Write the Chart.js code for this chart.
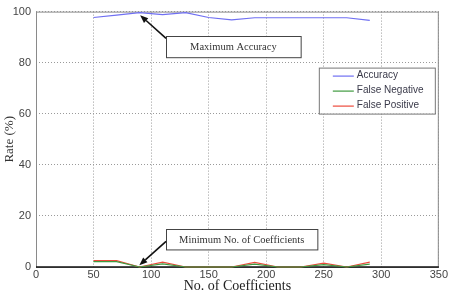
<!DOCTYPE html>
<html>
<head>
<meta charset="utf-8">
<script src="https://cdn.jsdelivr.net/npm/chart.js@4.4.1/dist/chart.umd.min.js"></script>
<style>
  html, body { margin: 0; padding: 0; background: #fff; }
  #wrap { position: relative; width: 449px; height: 295px; }
</style>
</head>
<body>
<div id="wrap"><canvas id="chart"></canvas></div>
<script>
// values
const coefficients = [50, 70, 90, 110, 130, 150, 170, 190, 210, 230, 250, 270, 290];
const accuracy = [97.7, 98.6, 99.6, 98.8, 99.6, 97.7, 96.8, 97.6, 97.6, 97.6, 97.6, 97.6, 96.6];
const falseNegative = [2.1, 2.1, 0, 1.2, 0, 0, 0, 1.1, 0, 0, 0.9, 0, 1.1];
const falsePositive = [2.5, 2.5, 0, 1.9, 0, 0, 0, 1.8, 0, 0, 1.5, 0, 1.9];

const seriesNames = ['Accuracy', 'False Negative', 'False Positive'];
const seriesColors = ['#6f6ff2', '#3f9a3f', '#ec4a3c'];

const xTicks = [0, 50, 100, 150, 200, 250, 300, 350];
const yTicks = [0, 20, 40, 60, 80, 100];

// annotation boxes (data units) with arrow tips
const notes = [
  { text: 'Maximum Accuracy', x0: 113, x1: 230, y0: 90.5, y1: 82.2, tail: [113, 89.5], tip: [90.5, 98.6] },
  { text: 'Minimum No. of Coefficients', x0: 113, x1: 244.5, y0: 14.8, y1: 6.8, tail: [113, 10], tip: [89.8, 0.7] }
];

const toPoints = (vals) => coefficients.map((c, i) => ({ x: c, y: vals[i] }));

const frame = {
  id: 'frame',
  beforeDatasetsDraw(chart) {
    const { ctx, chartArea: a } = chart;
    ctx.save();
    ctx.strokeStyle = '#8a8a8a';
    ctx.lineWidth = 1;
    ctx.strokeRect(a.left + 0.5, a.top + 0.5, a.right - a.left - 1, a.bottom - a.top);
    ctx.strokeStyle = '#111';
    ctx.lineWidth = 1.5;
    ctx.beginPath();
    ctx.moveTo(a.left, a.bottom);
    ctx.lineTo(a.right, a.bottom);
    ctx.stroke();
    ctx.restore();
  }
};

const extras = {
  id: 'extras',
  afterDraw(chart) {
    const { ctx, chartArea: a } = chart;
    const xs = chart.scales.x, ys = chart.scales.y;
    ctx.save();

    // legend box
    const lx = a.right - 120, ly = a.top + 56, lw = 116, lh = 46;
    ctx.fillStyle = '#fff';
    ctx.fillRect(lx, ly, lw, lh);
    ctx.strokeStyle = '#777';
    ctx.lineWidth = 1;
    ctx.strokeRect(lx + 0.5, ly + 0.5, lw, lh);
    ctx.font = '10px "Liberation Sans", Arial, sans-serif';
    ctx.textBaseline = 'middle';
    seriesNames.forEach((name, i) => {
      const yy = ly + 8 + i * 15;
      ctx.strokeStyle = seriesColors[i];
      ctx.lineWidth = 1.2;
      ctx.beginPath();
      ctx.moveTo(lx + 14, yy + 0.5);
      ctx.lineTo(lx + 35, yy + 0.5);
      ctx.stroke();
      ctx.fillStyle = '#3a3a4a';
      ctx.fillText(name, lx + 38, yy);
    });

    // annotations
    notes.forEach(n => {
      const bx0 = xs.getPixelForValue(n.x0), bx1 = xs.getPixelForValue(n.x1);
      const by0 = ys.getPixelForValue(n.y0), by1 = ys.getPixelForValue(n.y1);
      ctx.fillStyle = '#fff';
      ctx.fillRect(bx0, by0, bx1 - bx0, by1 - by0);
      ctx.strokeStyle = '#444';
      ctx.lineWidth = 1;
      ctx.strokeRect(Math.round(bx0) + 0.5, Math.round(by0) + 0.5, bx1 - bx0, by1 - by0);
      ctx.fillStyle = '#333';
      ctx.font = '10.5px "Liberation Serif", "Times New Roman", serif';
      ctx.textAlign = 'center';
      ctx.fillText(n.text, (bx0 + bx1) / 2, (by0 + by1) / 2 + 1);

      const tx = xs.getPixelForValue(n.tail[0]), ty = ys.getPixelForValue(n.tail[1]);
      const px = xs.getPixelForValue(n.tip[0]), py = ys.getPixelForValue(n.tip[1]);
      const ang = Math.atan2(py - ty, px - tx);
      const hl = 8, hw = 3.2;
      const bxh = px - hl * Math.cos(ang), byh = py - hl * Math.sin(ang);
      ctx.strokeStyle = '#111';
      ctx.lineWidth = 1.6;
      ctx.beginPath();
      ctx.moveTo(tx, ty);
      ctx.lineTo(bxh, byh);
      ctx.stroke();
      ctx.fillStyle = '#111';
      ctx.beginPath();
      ctx.moveTo(px, py);
      ctx.lineTo(bxh + hw * Math.sin(ang), byh - hw * Math.cos(ang));
      ctx.lineTo(bxh - hw * Math.sin(ang), byh + hw * Math.cos(ang));
      ctx.closePath();
      ctx.fill();
    });
    ctx.restore();
  }
};

const makeSet = (i, vals) => ({
  label: seriesNames[i],
  data: toPoints(vals),
  borderColor: seriesColors[i],
  backgroundColor: seriesColors[i],
  borderWidth: 1.2,
  pointRadius: 0,
  tension: 0,
  clip: 4
});

const tickFont = { family: '"Liberation Sans", Arial, sans-serif', size: 11 };

new Chart(document.getElementById('chart'), {
  type: 'line',
  data: {
    datasets: [makeSet(0, accuracy), makeSet(1, falseNegative), makeSet(2, falsePositive)]
  },
  options: {
    responsive: true,
    maintainAspectRatio: false,
    animation: false,
    layout: { padding: { top: 3, right: 8, left: 0, bottom: 0 } },
    plugins: { legend: { display: false }, tooltip: { enabled: false } },
    scales: {
      x: {
        type: 'linear',
        min: 0,
        max: 350,
        afterBuildTicks: (s) => { s.ticks = xTicks.map(v => ({ value: v })); },
        afterFit: (s) => { s.height = 28; },
        ticks: { color: '#444', font: tickFont, padding: 1, maxRotation: 0 },
        grid: { color: '#9a9a9a', lineWidth: 1, drawTicks: false },
        border: { display: false, dash: [1, 2] },
        title: { display: true, text: 'No. of Coefficients', color: '#222', padding: { top: 0, bottom: 0 },
                 font: { family: '"Liberation Serif", "Times New Roman", serif', size: 14 } }
      },
      y: {
        min: 0,
        max: 100,
        afterBuildTicks: (s) => { s.ticks = yTicks.map(v => ({ value: v })); },
        afterFit: (s) => { s.width = 36; },
        ticks: { color: '#444', font: tickFont, padding: 5 },
        grid: { color: '#9a9a9a', lineWidth: 1, drawTicks: false },
        border: { display: false, dash: [1, 2] },
        title: { display: true, text: 'Rate (%)', color: '#333', padding: { top: 2, bottom: 0 },
                 font: { family: '"Liberation Serif", "Times New Roman", serif', size: 13 } }
      }
    }
  },
  plugins: [frame, extras]
});
</script>
</body>
</html>
